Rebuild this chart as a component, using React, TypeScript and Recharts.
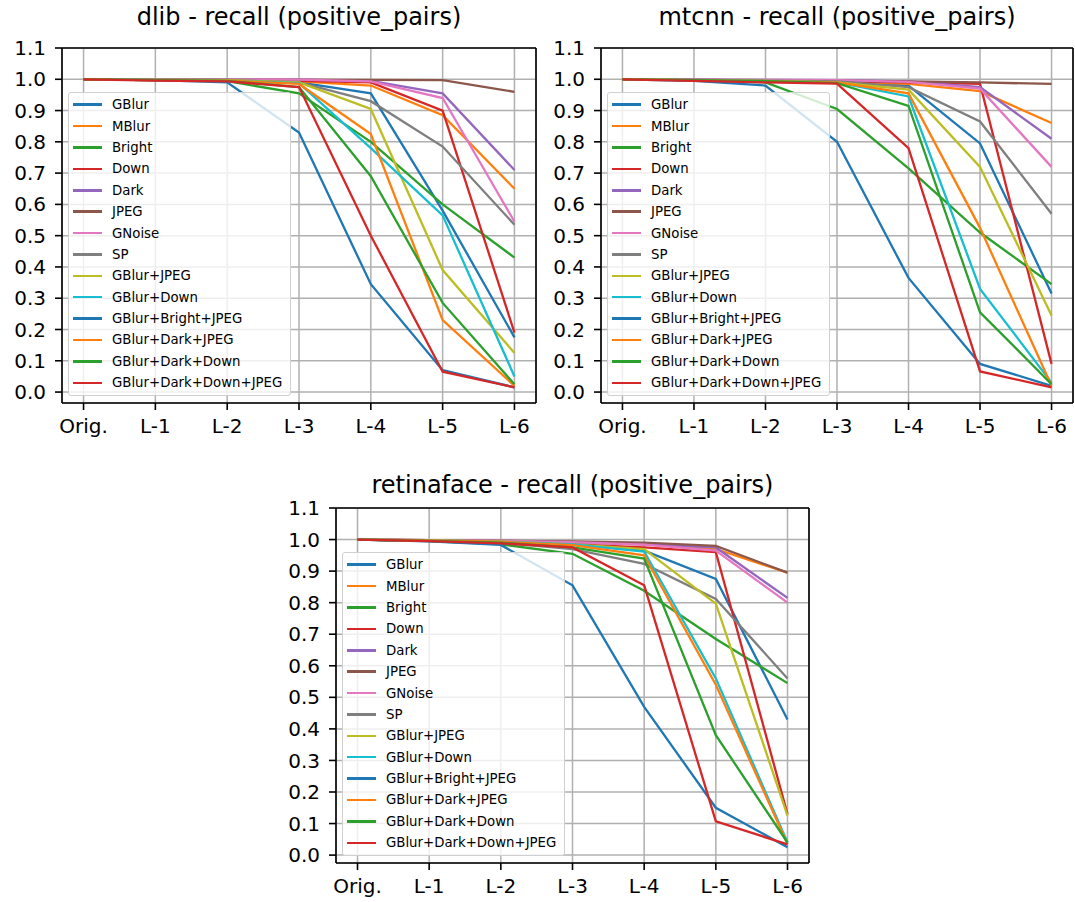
import React from "react";
import { LineChart, Line, XAxis, YAxis, CartesianGrid, ReferenceLine } from "recharts";

const LEVELS = ["Orig.", "L-1", "L-2", "L-3", "L-4", "L-5", "L-6"];
const Y_TICKS = [0, 0.1, 0.2, 0.3, 0.4, 0.5, 0.6, 0.7, 0.8, 0.9, 1.0, 1.1];

const SERIES = [
  "GBlur", "MBlur", "Bright", "Down", "Dark", "JPEG", "GNoise", "SP",
  "GBlur+JPEG", "GBlur+Down", "GBlur+Bright+JPEG", "GBlur+Dark+JPEG",
  "GBlur+Dark+Down", "GBlur+Dark+Down+JPEG",
];
const COLORS = [
  "#1f77b4", "#ff7f0e", "#2ca02c", "#d62728", "#9467bd", "#8c564b", "#e377c2",
  "#7f7f7f", "#bcbd22", "#17becf", "#1f77b4", "#ff7f0e", "#2ca02c", "#d62728",
];

// dlib, one row per series in SERIES order
const DLIB = [
  [1.0, 0.998, 0.997, 0.99, 0.955, 0.58, 0.175],
  [1.0, 0.998, 0.997, 0.993, 0.98, 0.885, 0.65],
  [1.0, 0.997, 0.994, 0.955, 0.8, 0.6, 0.43],
  [1.0, 0.998, 0.997, 0.995, 0.99, 0.9, 0.19],
  [1.0, 0.999, 0.999, 0.999, 0.995, 0.955, 0.71],
  [1.0, 0.999, 0.999, 0.999, 0.998, 0.997, 0.96],
  [1.0, 0.999, 0.999, 0.999, 0.993, 0.94, 0.545],
  [1.0, 0.999, 0.998, 0.99, 0.93, 0.785, 0.535],
  [1.0, 0.998, 0.997, 0.99, 0.905, 0.39, 0.125],
  [1.0, 0.997, 0.995, 0.988, 0.78, 0.565, 0.05],
  [1.0, 0.997, 0.99, 0.83, 0.345, 0.07, 0.015],
  [1.0, 0.997, 0.996, 0.985, 0.825, 0.23, 0.02],
  [1.0, 0.997, 0.995, 0.975, 0.69, 0.285, 0.025],
  [1.0, 0.996, 0.993, 0.975, 0.5, 0.065, 0.015],
];

const MTCNN = [
  [1.0, 0.997, 0.995, 0.99, 0.98, 0.795, 0.315],
  [1.0, 0.998, 0.996, 0.993, 0.985, 0.962, 0.86],
  [1.0, 0.997, 0.99, 0.905, 0.715, 0.51, 0.345],
  [1.0, 0.998, 0.996, 0.993, 0.99, 0.985, 0.09],
  [1.0, 0.999, 0.998, 0.997, 0.993, 0.975, 0.81],
  [1.0, 0.998, 0.997, 0.996, 0.993, 0.99, 0.985],
  [1.0, 0.999, 0.998, 0.997, 0.992, 0.97, 0.72],
  [1.0, 0.998, 0.996, 0.993, 0.975, 0.865, 0.57],
  [1.0, 0.997, 0.995, 0.99, 0.967, 0.72, 0.245],
  [1.0, 0.997, 0.994, 0.99, 0.945, 0.33, 0.03],
  [1.0, 0.995, 0.98, 0.8, 0.365, 0.09, 0.02],
  [1.0, 0.997, 0.994, 0.99, 0.955, 0.525, 0.02],
  [1.0, 0.997, 0.994, 0.988, 0.915, 0.255, 0.025],
  [1.0, 0.995, 0.99, 0.986, 0.78, 0.066, 0.015],
];

const RETINAFACE = [
  [1.0, 0.997, 0.993, 0.985, 0.965, 0.875, 0.43],
  [1.0, 0.998, 0.996, 0.99, 0.985, 0.97, 0.895],
  [1.0, 0.995, 0.985, 0.955, 0.838, 0.685, 0.545],
  [1.0, 0.997, 0.993, 0.985, 0.975, 0.96, 0.13],
  [1.0, 0.998, 0.996, 0.992, 0.985, 0.975, 0.815],
  [1.0, 0.998, 0.996, 0.994, 0.99, 0.98, 0.895],
  [1.0, 0.998, 0.996, 0.992, 0.984, 0.965, 0.8],
  [1.0, 0.996, 0.99, 0.97, 0.923, 0.812, 0.56],
  [1.0, 0.997, 0.993, 0.985, 0.97, 0.797, 0.125],
  [1.0, 0.997, 0.993, 0.985, 0.962, 0.56, 0.04],
  [1.0, 0.994, 0.983, 0.855, 0.47, 0.15, 0.025],
  [1.0, 0.997, 0.993, 0.982, 0.95, 0.54, 0.035],
  [1.0, 0.996, 0.99, 0.975, 0.94, 0.38, 0.04],
  [1.0, 0.995, 0.988, 0.975, 0.855, 0.107, 0.034],
];

const FONT = "'DejaVu Sans', sans-serif";
const X_MIN = -0.3;
const X_MAX = 6.3;

function toRows(values: number[][]) {
  return LEVELS.map((_, i) => {
    const row: Record<string, number> = { x: i };
    SERIES.forEach((_, s) => (row["s" + s] = values[s][i]));
    return row;
  });
}

function LegendBox({ left, top }: { left: number; top: number }) {
  return (
    <div
      style={{
        position: "absolute",
        left,
        top,
        width: 223,
        boxSizing: "border-box",
        background: "rgba(255,255,255,0.8)",
        border: "1px solid #d0d0d0",
        borderRadius: 3,
        padding: "1px 0 2px 4px",
        fontFamily: FONT,
        fontSize: 13.3,
        color: "#000",
      }}
    >
      {SERIES.map((name, i) => (
        <div key={name} style={{ height: 21.4, display: "flex", alignItems: "center" }}>
          <span style={{ width: 29, height: 2.5, background: COLORS[i], display: "inline-block", flex: "none" }} />
          <span style={{ marginLeft: 10, whiteSpace: "nowrap" }}>{name}</span>
        </div>
      ))}
    </div>
  );
}

function Panel({
  title, values, left, top, width, plotW, yMin, titleTop,
}: {
  title: string; values: number[][]; left: number; top: number; width: number; plotW: number; yMin: number; titleTop: number;
}) {
  const data = toRows(values);
  const tick = { fill: "#000", fontSize: 20, fontFamily: FONT };
  return (
    <div style={{ position: "absolute", left, top, width, height: 445 }}>
      <LineChart width={width} height={445} data={data} margin={{ top: 48, right: width - 62 - plotW, bottom: 0, left: 0 }}>
        <CartesianGrid stroke="#b0b0b0" strokeWidth={1.5} />
        <XAxis
          dataKey="x" type="number" domain={[X_MIN, X_MAX]} ticks={[0, 1, 2, 3, 4, 5, 6]}
          tickFormatter={(v: number) => LEVELS[v]} allowDataOverflow height={42}
          tick={tick} tickSize={7} tickMargin={9} stroke="#000" axisLine={{ stroke: "#000", strokeWidth: 1.6 }}
          tickLine={{ stroke: "#000", strokeWidth: 1.6 }}
        />
        <YAxis
          type="number" domain={[yMin, 1.1]} ticks={Y_TICKS} allowDataOverflow width={62}
          tickFormatter={(v: number) => v.toFixed(1)} tick={tick} tickSize={7} tickMargin={9}
          axisLine={{ stroke: "#000", strokeWidth: 1.6 }} tickLine={{ stroke: "#000", strokeWidth: 1.6 }}
        />
        <ReferenceLine y={1.1} stroke="#000" strokeWidth={1.6} />
        <ReferenceLine x={X_MAX} stroke="#000" strokeWidth={1.6} />
        {SERIES.map((name, i) => (
          <Line
            key={name} dataKey={"s" + i} name={name} stroke={COLORS[i]} strokeWidth={2.3}
            dot={false} isAnimationActive={false} type="linear"
          />
        ))}
      </LineChart>
      <div
        style={{
          position: "absolute", left: 62, top: titleTop, width: plotW, textAlign: "center",
          fontFamily: FONT, fontSize: 24, lineHeight: "28px", color: "#000", whiteSpace: "nowrap",
        }}
      >
        {title}
      </div>
      <LegendBox left={68} top={92} />
    </div>
  );
}

export default function App() {
  return (
    <div style={{ position: "absolute", left: 0, top: 0, width: 1075, height: 902, background: "#fff", overflow: "hidden" }}>
      <Panel title="dlib - recall (positive_pairs)" values={DLIB} left={0} top={0} width={545} plotW={474} yMin={-0.035} titleTop={3} />
      <Panel title="mtcnn - recall (positive_pairs)" values={MTCNN} left={539} top={0} width={536} plotW={472} yMin={-0.035} titleTop={3} />
      <Panel title="retinaface - recall (positive_pairs)" values={RETINAFACE} left={274} top={460} width={540} plotW={473} yMin={-0.025} titleTop={11} />
    </div>
  );
}
